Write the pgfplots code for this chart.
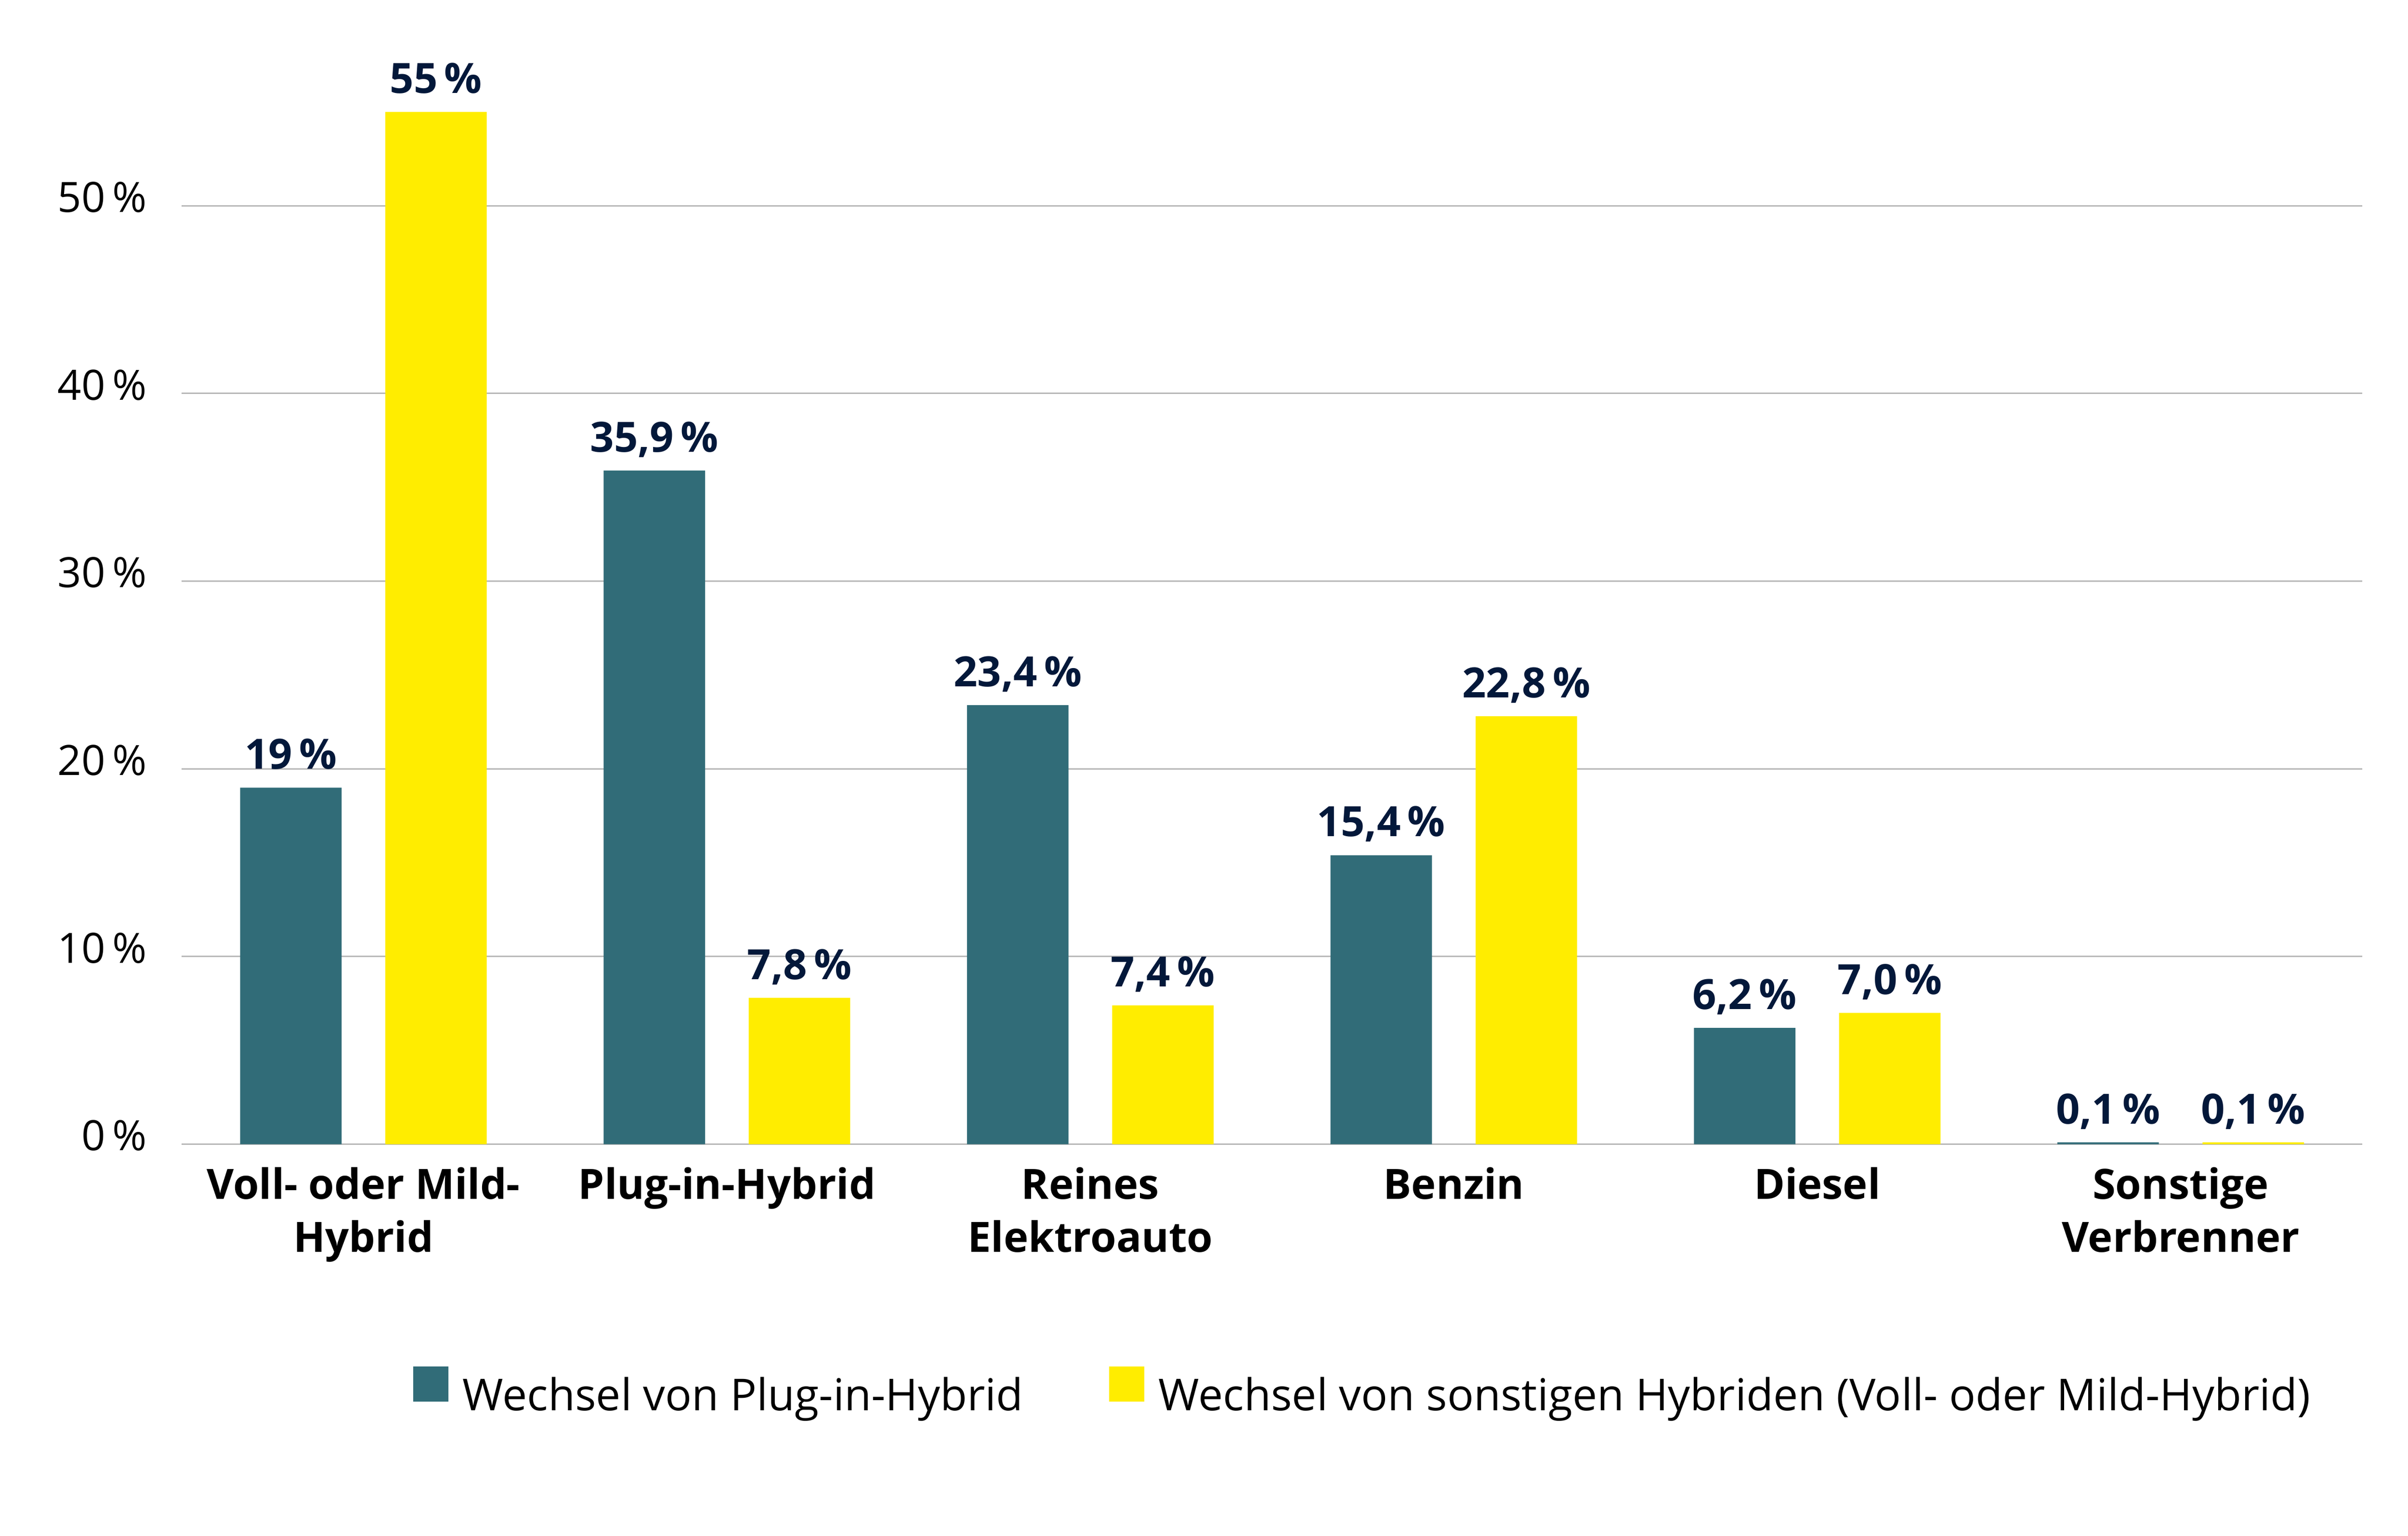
\documentclass[border=0pt]{standalone}
\usepackage{fontspec}
\setmainfont{Open Sans}
\usepackage{pgfplots}
\pgfplotsset{compat=1.18}
\definecolor{tealbar}{HTML}{316C78}
\definecolor{yelbar}{HTML}{FFED00}
\definecolor{navy}{HTML}{03183A}
\definecolor{gridc}{HTML}{B8B8B8}
\begin{document}
\begin{tikzpicture}
\useasboundingbox (0,0) rectangle (750pt,478.3pt);
\begin{axis}[
  at={(56.6pt,121.95pt)}, anchor=south west,
  scale only axis, width=679.2pt, height=350.7pt,
  xmin=-0.5, xmax=5.5, ymin=0, ymax=60,
  clip=false,
  axis line style={draw=none},
  tick style={draw=none}, major tick length=0pt,
  ymajorgrids, major grid style={draw=gridc, line width=0.45pt},
  xtick={0,1,2,3,4,5},
  xticklabels={{Voll- oder Mild-\\Hybrid},{Plug-in-Hybrid\\\mbox{}},{Reines\\Elektroauto},{Benzin\\\mbox{}},{Diesel\\\mbox{}},{Sonstige\\Verbrenner}},
  xticklabel style={align=center, font=\fontsize{13}{16.5}\selectfont\bfseries, anchor=base, inner sep=0pt, yshift=-33.6pt},
  ytick={0,10,20,30,40,50},
  yticklabel={\pgfmathprintnumber{\tick}\,\%},
  yticklabel style={font=\fontsize{13}{16}\selectfont, anchor=base east, inner sep=0pt, xshift=-10.7pt, yshift=-2pt},
  /pgf/number format/assume math mode=true,
  ybar, bar width=31.6pt,
  nodes near coords, point meta=explicit symbolic,
  every node near coord/.append style={font=\fontsize{13}{16}\selectfont\bfseries, text=navy, anchor=base, inner sep=0pt, yshift=5.8pt},
  legend columns=2,
  legend image code/.code={\fill[#1] (0pt,-1.4pt) rectangle (11pt,9.6pt);},
  legend style={at={(0.10615,-0.21885)}, anchor=west, draw=none, fill=none,
    inner sep=0pt, outer sep=0pt, font=\fontsize{13.7}{16}\selectfont,
    cells={anchor=west},
    nodes={inner sep=0pt, text height=9.6pt, text depth=1.4pt},
    /tikz/every odd column/.append style={column sep=4.4pt},
    /tikz/every even column/.append style={column sep=26.8pt}},
]
\addplot[fill=tealbar, draw=none, bar shift=-22.6pt] coordinates {
  (0,19) [19\,\%]
  (1,35.9) [35,9\,\%]
  (2,23.4) [23,4\,\%]
  (3,15.4) [15,4\,\%]
  (4,6.2) [6,2\,\%]
  (5,0.1) [0,1\,\%]
};
\addlegendentry{Wechsel von Plug-in-Hybrid}
\addplot[fill=yelbar, draw=none, bar shift=22.6pt] coordinates {
  (0,55) [55\,\%]
  (1,7.8) [7,8\,\%]
  (2,7.4) [7,4\,\%]
  (3,22.8) [22,8\,\%]
  (4,7.0) [7,0\,\%]
  (5,0.1) [0,1\,\%]
};
\addlegendentry{Wechsel von sonstigen Hybriden (Voll- oder Mild-Hybrid)}
\end{axis}
\end{tikzpicture}
\end{document}
